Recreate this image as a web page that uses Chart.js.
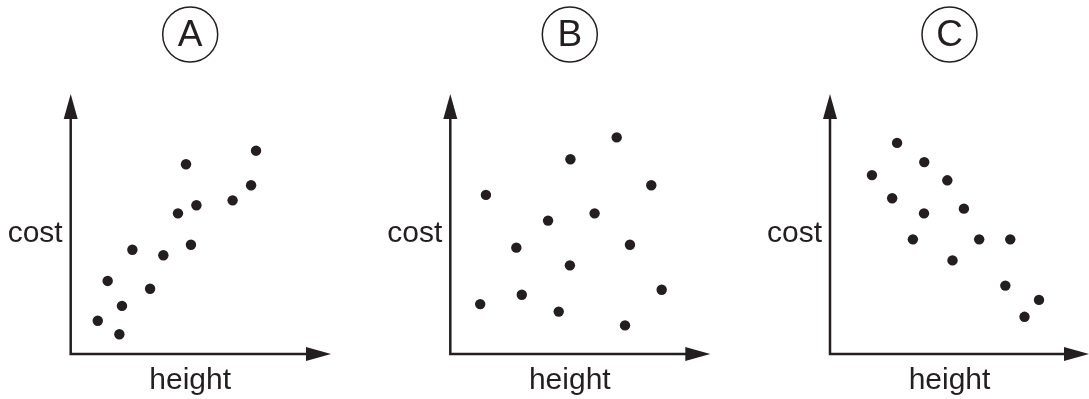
<!DOCTYPE html>
<html>
<head>
<meta charset="utf-8">
<script src="https://cdn.jsdelivr.net/npm/chart.js@4.4.1/dist/chart.umd.min.js"></script>
<style>
  html, body { margin: 0; padding: 0; background: #fff; }
  #wrap { position: relative; width: 1089px; height: 399px; overflow: hidden; }
  canvas { position: absolute; top: 0; }
</style>
</head>
<body>
<div id="wrap">
  <canvas id="chartA" width="363" height="399" style="left:0px"></canvas>
  <canvas id="chartB" width="363" height="399" style="left:363px"></canvas>
  <canvas id="chartC" width="363" height="399" style="left:726px"></canvas>
</div>
<script>
/* =========================
    DATA
========================= */

const PANEL_LABELS = ["A", "B", "C"];
const X_TITLE = "height";
const Y_TITLE = "cost";

// A: positive correlation
const heightA = [10.4, 18.7, 14.2, 19.7, 23.7, 30.5, 35.6, 41.2, 44.3, 46.2, 48.3, 62.2, 69.3, 71.2];
const costA   = [12.8,  7.6, 28.1, 18.5, 40.1, 25.1, 38.0, 54.1, 73.0, 42.0, 57.2, 59.1, 64.9, 78.2];

// B: no correlation
const heightB = [13.7, 11.5, 25.4, 27.5, 37.6, 41.7, 46.2, 46.0, 55.5, 64.0, 67.2, 69.1, 77.3, 81.3];
const costB   = [61.2, 19.2, 40.9, 22.8, 51.3, 16.3, 74.9, 34.1, 54.1, 83.3, 11.0, 42.0, 64.9, 24.7];

// C: negative correlation
const heightC = [16.2, 25.9, 24.0, 36.4, 36.3, 32.0, 45.3, 51.7, 47.3, 57.6, 69.6, 67.7, 80.7, 75.1];
const costC   = [68.8, 81.2, 59.9, 73.8, 54.1, 44.1, 66.8, 55.9, 36.0, 44.1, 44.1, 26.3, 20.8, 14.3];


/* =========================
    STYLE
========================= */

const INK = "#231f20";
const FONT = "'Liberation Sans', Arial, Helvetica, sans-serif";

// Abstand der Achsen innerhalb jeder Leinwand
const PADDINGS = [
  { left: 70.7, right: 32,   top: 94, bottom: 45 },
  { left: 87.3, right: 15.7, top: 94, bottom: 45 },
  { left: 104,  right: 0,    top: 94, bottom: 45 }
];


/* =========================
    DECORATION PLUGIN
========================= */

// Achsen mit Pfeilen, Beschriftungen und Buchstabe im Kreis
const decoPlugin = {
  id: "deco",
  beforeDatasetsDraw(chart, args, opts) {
    const { ctx, chartArea } = chart;
    const { left, right, top, bottom } = chartArea;
    const arrowLen = 25, arrowHalf = 7;

    ctx.save();
    ctx.strokeStyle = INK;
    ctx.fillStyle = INK;
    ctx.lineWidth = 2.5;
    ctx.lineJoin = "miter";

    // Achsenlinien
    ctx.beginPath();
    ctx.moveTo(left, top + arrowLen - 2);
    ctx.lineTo(left, bottom);
    ctx.lineTo(right - arrowLen + 2, bottom);
    ctx.stroke();

    // Pfeil nach oben
    ctx.beginPath();
    ctx.moveTo(left, top);
    ctx.lineTo(left - arrowHalf, top + arrowLen);
    ctx.lineTo(left + arrowHalf, top + arrowLen);
    ctx.closePath();
    ctx.fill();

    // Pfeil nach rechts
    ctx.beginPath();
    ctx.moveTo(right, bottom);
    ctx.lineTo(right - arrowLen, bottom - arrowHalf);
    ctx.lineTo(right - arrowLen, bottom + arrowHalf);
    ctx.closePath();
    ctx.fill();

    // Achsentitel
    ctx.font = "30px " + FONT;
    ctx.textBaseline = "alphabetic";
    ctx.textAlign = "right";
    ctx.fillText(Y_TITLE, left - 8, 242);

    const cx = left + 119.5;
    ctx.textAlign = "center";
    ctx.fillText(X_TITLE, cx, 389);

    // Buchstabe im Kreis
    ctx.lineWidth = 1.5;
    ctx.beginPath();
    ctx.arc(cx, 34.5, 27.5, 0, Math.PI * 2);
    ctx.stroke();
    ctx.font = "37px " + FONT;
    ctx.textBaseline = "middle";
    ctx.fillText(opts.letter, cx, 36);

    ctx.restore();
  }
};


/* =========================
    CHARTS
========================= */

function makeChart(id, letter, xs, ys, padding) {
  const points = xs.map((x, i) => ({ x: x, y: ys[i] }));

  return new Chart(document.getElementById(id), {
    type: "scatter",
    data: {
      datasets: [{
        data: points,
        backgroundColor: INK,
        borderWidth: 0,
        pointRadius: 5.2,
        pointHoverRadius: 5.2,
        clip: false
      }]
    },
    options: {
      responsive: false,
      animation: false,
      events: [],
      layout: { padding: padding, autoPadding: false },
      scales: {
        x: { type: "linear", min: 0, max: 100, display: false },
        y: { type: "linear", min: 0, max: 100, display: false }
      },
      plugins: {
        legend: { display: false },
        tooltip: { enabled: false },
        deco: { letter: letter }
      }
    },
    plugins: [decoPlugin]
  });
}

makeChart("chartA", PANEL_LABELS[0], heightA, costA, PADDINGS[0]);
makeChart("chartB", PANEL_LABELS[1], heightB, costB, PADDINGS[1]);
makeChart("chartC", PANEL_LABELS[2], heightC, costC, PADDINGS[2]);
</script>
</body>
</html>
